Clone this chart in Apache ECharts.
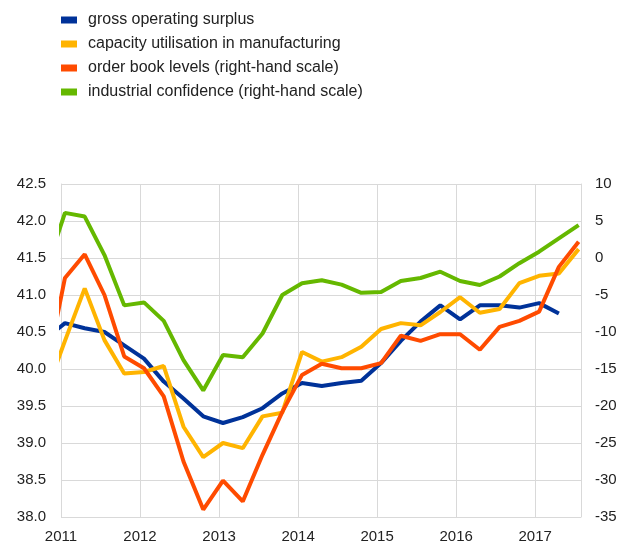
<!DOCTYPE html>
<html>
<head>
<meta charset="utf-8">
<script src="https://cdn.jsdelivr.net/npm/echarts@6/dist/echarts.min.js"></script>
<style>
  html, body { margin: 0; padding: 0; background: #fff; }
  #main { width: 624px; height: 545px; }
</style>
</head>
<body>
<div id="main"></div>
<script>
// quarterly observations, first one falls before the axis start and gets clipped
var quarters = ['2010Q4',
  '2011Q1','2011Q2','2011Q3','2011Q4','2012Q1','2012Q2','2012Q3','2012Q4',
  '2013Q1','2013Q2','2013Q3','2013Q4','2014Q1','2014Q2','2014Q3','2014Q4',
  '2015Q1','2015Q2','2015Q3','2015Q4','2016Q1','2016Q2','2016Q3','2016Q4',
  '2017Q1','2017Q2','2017Q3'];

var grossSurplus = [40.4,
  40.62, 40.55, 40.50, 40.32, 40.14, 39.83, 39.60, 39.36,
  39.27, 39.35, 39.47, 39.67, 39.81, 39.77, 39.81, 39.84,
  40.08, 40.38, 40.64, 40.86, 40.67, 40.86, 40.86, 40.83,
  40.89, 40.75];

var capacityUtil = [39.65,
  40.38, 41.09, 40.39, 39.94, 39.96, 40.04, 39.22, 38.81,
  39.00, 38.93, 39.36, 39.41, 40.23, 40.10, 40.16, 40.30,
  40.54, 40.62, 40.59, 40.77, 40.97, 40.76, 40.81, 41.16,
  41.26, 41.29, 41.62];

var orderBook = [-16,
  -2.7, 0.5, -5.0, -13.3, -14.9, -18.7, -27.5, -34.0,
  -30.1, -32.9, -26.6, -20.8, -15.8, -14.3, -14.9, -14.9,
  -14.2, -10.5, -11.2, -10.3, -10.3, -12.4, -9.3, -8.5,
  -7.25, -1.2, 2.2];

var indConfidence = [-2,
  6.1, 5.6, 0.4, -6.4, -6.0, -8.5, -13.8, -17.9,
  -13.1, -13.4, -10.2, -5.0, -3.4, -3.0, -3.6, -4.7,
  -4.6, -3.1, -2.7, -1.85, -3.1, -3.65, -2.5, -0.7,
  0.85, 2.65, 4.45];

var yearTicks = [2011, 2012, 2013, 2014, 2015, 2016, 2017];

function qPos(q) {
  var y = parseInt(q.slice(0, 4), 10);
  var n = parseInt(q.slice(5), 10);
  return y + (n - 1) / 4 + 0.05;
}
function pairs(vals) {
  return vals.map(function (v, i) { return [qPos(quarters[i]), v]; });
}

var gridColor = '#d9d9d9';
var txt = '#222';
var font = 'Liberation Sans, Arial, sans-serif';

var myChart = echarts.init(document.getElementById('main'));
var option = {
  animation: false,
  textStyle: { fontFamily: font },
  legend: {
    orient: 'vertical',
    left: 56,
    top: 7,
    itemWidth: 16,
    itemHeight: 7,
    itemGap: 8,
    icon: 'rect',
    textStyle: { fontSize: 16, color: txt, fontFamily: font, padding: [0, 0, 0, 6] },
    data: ['gross operating surplus', 'capacity utilisation in manufacturing',
      'order book levels (right-hand scale)', 'industrial confidence (right-hand scale)']
  },
  grid: { left: 61, right: 43, top: 184, bottom: 28 },
  xAxis: {
    type: 'value',
    min: yearTicks[0],
    max: 2017.58,
    interval: 1,
    axisLine: { show: true, lineStyle: { color: gridColor } },
    axisTick: { show: false },
    splitLine: { show: true, lineStyle: { color: gridColor, width: 1 } },
    axisLabel: {
      color: txt, fontSize: 15, margin: 12, showMaxLabel: false,
      formatter: function (v) { return yearTicks.indexOf(v) >= 0 ? String(v) : ''; }
    }
  },
  yAxis: [{
    type: 'value',
    min: 38, max: 42.5, interval: 0.5,
    axisLine: { show: true, lineStyle: { color: gridColor } },
    axisTick: { show: false },
    splitLine: { show: true, lineStyle: { color: gridColor, width: 1 } },
    axisLabel: { color: txt, fontSize: 15, margin: 15,
      formatter: function (v) { return v.toFixed(1); } }
  }, {
    type: 'value',
    min: -35, max: 10, interval: 5,
    axisLine: { show: true, lineStyle: { color: gridColor } },
    axisTick: { show: false },
    splitLine: { show: false },
    axisLabel: { color: txt, fontSize: 15, margin: 14 }
  }],
  series: [{
    name: 'gross operating surplus',
    type: 'line', yAxisIndex: 0, symbol: 'none', clip: true,
    itemStyle: { color: '#003299' },
    lineStyle: { color: '#003299', width: 4 },
    data: pairs(grossSurplus)
  }, {
    name: 'capacity utilisation in manufacturing',
    type: 'line', yAxisIndex: 0, symbol: 'none', clip: true,
    itemStyle: { color: '#ffb400' },
    lineStyle: { color: '#ffb400', width: 4 },
    data: pairs(capacityUtil)
  }, {
    name: 'order book levels (right-hand scale)',
    type: 'line', yAxisIndex: 1, symbol: 'none', clip: true,
    itemStyle: { color: '#ff4b00' },
    lineStyle: { color: '#ff4b00', width: 4 },
    data: pairs(orderBook)
  }, {
    name: 'industrial confidence (right-hand scale)',
    type: 'line', yAxisIndex: 1, symbol: 'none', clip: true,
    itemStyle: { color: '#65b800' },
    lineStyle: { color: '#65b800', width: 4 },
    data: pairs(indConfidence)
  }]
};
myChart.setOption(option);
</script>
</body>
</html>
